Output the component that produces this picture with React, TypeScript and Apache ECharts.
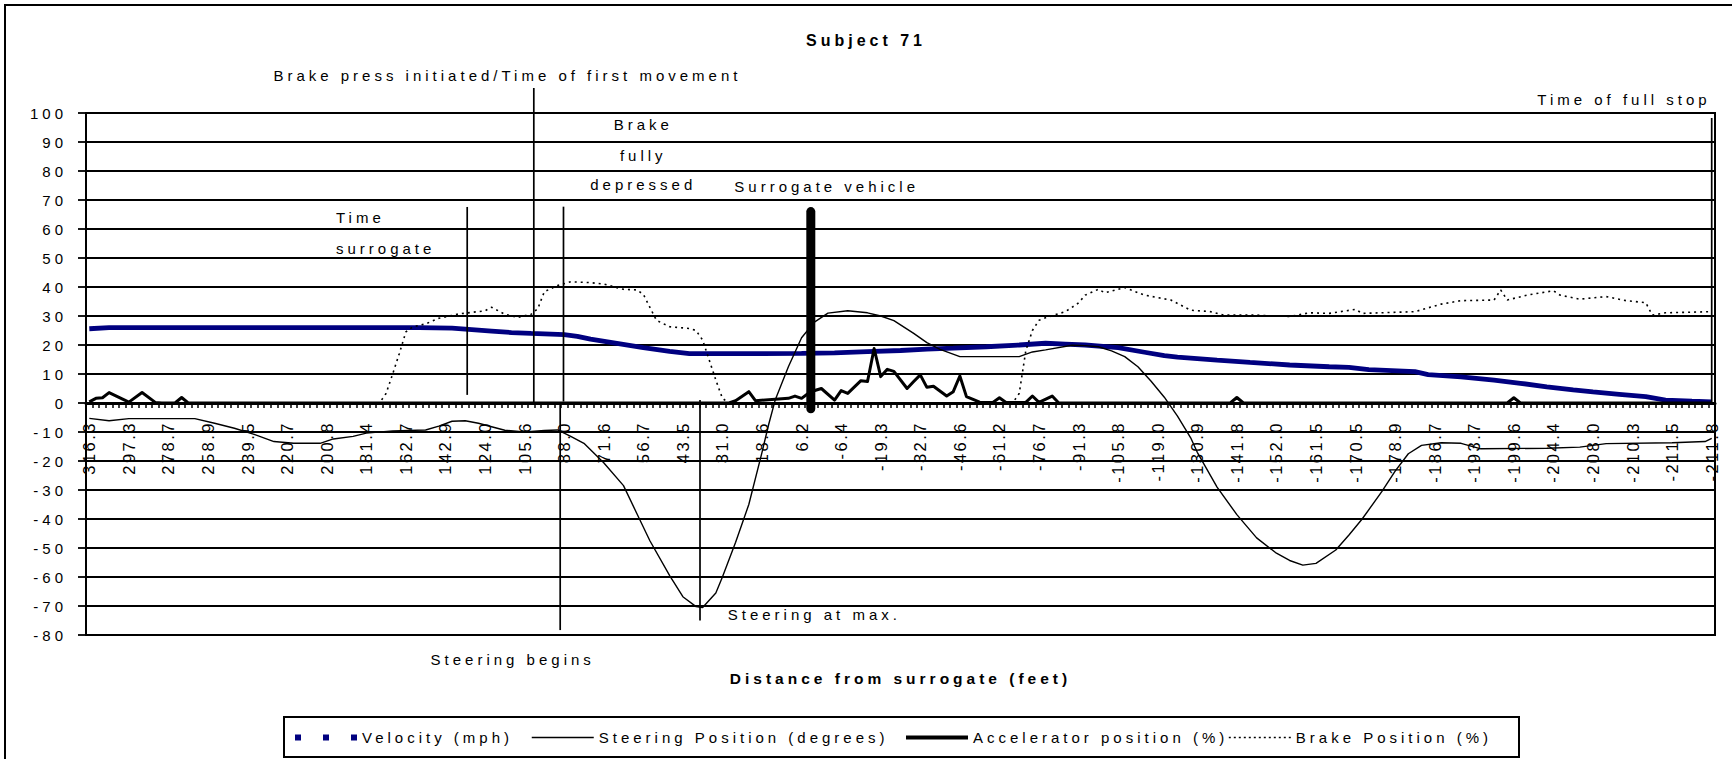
import React, { useEffect, useRef } from "react";
import * as echarts from "echarts";

const FONT = '"Liberation Sans", Arial, Helvetica, sans-serif';

// Distance labels shown on the category axis (one every 6 samples)
const distanceLabels = [
  "316.3", "297.3", "278.7", "258.9", "239.5", "220.7", "200.8", "181.4", "162.7", "142.9",
  "124.0", "105.6", "88.0", "71.6", "56.7", "43.5", "31.0", "18.6", "6.2", "-6.4",
  "-19.3", "-32.7", "-46.6", "-61.2", "-76.7", "-91.3", "-105.8", "-119.0", "-130.9", "-141.8",
  "-152.0", "-161.5", "-170.5", "-178.9", "-186.7", "-193.7", "-199.6", "-204.4", "-208.0", "-210.3",
  "-211.5", "-211.8",
];
const LABEL_STEP = 6;

// [sample index, value]
const velocity: number[][] = [
  [0, 25.6], [3, 26], [50, 26], [55, 25.8], [58, 25.3], [61, 24.8], [64, 24.3], [67, 24], [72, 23.6],
  [74, 23], [76, 22], [80, 20.6], [84, 19.1], [88, 17.8], [91, 17], [98, 17], [108, 17.1], [113, 17.3],
  [118, 17.7], [123, 18.1], [127, 18.6], [131, 18.9], [136, 19.4], [141, 20], [145, 20.6], [148, 20.3],
  [151, 20], [156, 19.1], [160, 17.5], [163, 16.3], [165, 15.8], [171, 14.8], [176, 14], [182, 13.1],
  [188, 12.5], [191, 12.3], [194, 11.5], [201, 10.8], [203, 9.8], [208, 9], [213, 7.9], [217, 6.8],
  [221, 5.6], [225, 4.5], [228, 3.8], [232, 3], [236, 2.2], [239, 1], [243, 0.6], [246, 0.4],
];

const steering: number[][] = [
  [0, -5.3], [3, -6.1], [6, -5.4], [16, -5.4], [19, -7], [22, -8.7], [25, -10.8], [28, -13.3], [31, -13.9],
  [35, -13.9], [37, -12.4], [40, -11.5], [42, -10.4], [46, -9.6], [51, -9.3], [53, -8], [55, -6.3], [57, -6.1],
  [59, -7], [61, -8.2], [63, -9.4], [66, -10], [69, -9.5], [71, -9.3], [73, -11.5], [75, -13.9], [78, -20.6],
  [81, -28.5], [83, -38], [85, -47.5], [88, -59.5], [90, -66.8], [92, -70.2], [93, -70.5], [95, -65.5],
  [96, -60], [98, -48], [100, -35], [102, -17], [103, -7.5], [104, 1], [106, 12.5], [108, 22.5], [110, 28],
  [112, 31], [115, 31.8], [118, 31.1], [120, 30], [122, 28.4], [125, 24], [127, 20.8], [129, 18.5], [132, 16],
  [141, 16], [143, 17.6], [145, 18.3], [149, 19.9], [151, 19.8], [153, 19.4], [155, 18], [157, 16],
  [159, 12.5], [161, 7.5], [163, 2], [165, -4.5], [167, -12], [168, -17], [171, -29], [174, -38.5],
  [177, -46.5], [180, -51.8], [182, -54.3], [184, -55.9], [186, -55.3], [189, -50.7], [191, -45.5],
  [193, -40], [196, -30.5], [198, -23.5], [200, -17.5], [202, -14.6], [205, -13.7], [208, -13.9],
  [211, -15.8], [221, -15.6], [226, -15.2], [230, -14], [240, -13.7], [245, -13.3], [246, -12.2],
];

const accelerator: number[][] = [
  [0, 0.4], [1, 1.6], [2, 1.8], [3, 3.6], [6, 0.3], [8, 3.6], [10, 0.2], [11, 0], [13, 0], [14, 1.9],
  [15, 0], [97, 0], [98, 0.8], [100, 3.9], [101, 0.8], [104, 1.3], [106, 1.6], [107, 2.4], [108, 1.6],
  [109, 3.3], [110, 4.3], [111, 5], [113, 1], [114, 4.3], [115, 3.3], [117, 7.7], [118, 7.4], [119, 18.8],
  [120, 9.1], [121, 11.6], [122, 10.9], [124, 5], [125, 7.4], [126, 9.7], [127, 5.4], [128, 5.8],
  [130, 2.4], [131, 3.9], [132, 9.3], [133, 2.2], [135, 0.3], [137, 0.2], [138, 1.8], [139, 0.2],
  [142, 0.2], [143, 2.4], [144, 0.2], [146, 2.4], [147, 0], [173, 0], [174, 1.9], [175, 0], [215, 0],
  [216, 1.8], [217, 0], [246, 0],
];

const brake: number[][] = [
  [0, 0], [44, 0], [45, 3.3], [46, 10], [47, 17], [48, 24.5], [49, 26.2], [51, 27.3], [53, 29.2],
  [56, 30.7], [60, 31.8], [61, 33], [63, 30.6], [65, 29.5], [67, 30.6], [68, 32.5], [69, 38.4], [71, 40.5],
  [73, 41.8], [76, 41.5], [78, 41], [81, 39.2], [83, 39], [84, 37.5], [85, 33], [86, 28.5], [88, 26.3],
  [91, 25.7], [92, 25], [93, 21.7], [94, 14.8], [95, 7.9], [96, 1.6], [97, 0], [140, 0], [141, 3.3],
  [142, 18], [143, 25], [144, 28.5], [145, 29.4], [148, 31.5], [150, 34.5], [151, 37.2], [153, 39.2],
  [154, 38], [157, 39.8], [160, 37.2], [164, 35.5], [167, 32], [170, 31.5], [172, 30.3], [177, 30.3],
  [182, 29.8], [185, 31.1], [188, 30.9], [192, 32.3], [193, 30.9], [201, 31.5], [205, 34.1], [208, 35.3],
  [213, 35.5], [214, 39], [215, 35.5], [218, 37.2], [222, 38.7], [223, 37.2], [226, 35.8], [230, 36.7],
  [233, 35.3], [236, 34.6], [237, 30.3], [239, 31.1], [246, 31.5],
];

// Annotation markers, in axis units: sample index, value from, value to
const markerLines = [
  { c: 67.4, from: 108.6, to: 0, width: 1.7 },   // brake press initiated
  { c: 57.3, from: 67.6, to: 2.8, width: 1.7 },  // time surrogate
  { c: 71.9, from: 67.7, to: 0.5, width: 1.7 },  // brake fully depressed
  { c: 71.4, from: 0, to: -78.3, width: 1.7 },   // steering begins
  { c: 92.6, from: 1, to: -75, width: 1.7 },     // steering at max
  { c: 109.4, from: 66, to: -2, width: 9 },      // surrogate vehicle
  { c: 246, from: 98.3, to: 0, width: 1.7 },     // time of full stop
];

const markerTexts = [
  { text: "Brake press initiated/Time of first movement", c: 63.4, v: 113, align: "center" },
  { text: "Time", c: 37.4, v: 63.8, align: "left" },
  { text: "surrogate", c: 37.4, v: 53.3, align: "left" },
  { text: "Brake", c: 84, v: 95.9, align: "center" },
  { text: "fully", c: 84, v: 85.5, align: "center" },
  { text: "depressed", c: 84, v: 75.2, align: "center" },
  { text: "Surrogate vehicle", c: 97.8, v: 74.6, align: "left" },
  { text: "Steering at max.", c: 96.8, v: -73.1, align: "left" },
  { text: "Steering begins", c: 64.2, v: -88.3, align: "center" },
  { text: "Time of full stop", c: 232.7, v: 104.7, align: "center" },
];

const categories = Array.from(
  { length: (distanceLabels.length - 1) * LABEL_STEP + 1 },
  (_, i) => (i % LABEL_STEP === 0 ? distanceLabels[i / LABEL_STEP] : "")
);

const Y_MIN = -80;
const Y_MAX = 100;
const W = 1732;
const H = 759;

export default function App() {
  const ref = useRef<HTMLDivElement>(null);

  useEffect(() => {
    if (!ref.current) return;
    const chart = echarts.init(ref.current, null, { renderer: "svg", width: W, height: H });

    const legendBase = {
      orient: "horizontal",
      top: 730,
      itemHeight: 14,
      padding: 0,
      selectedMode: false,
      itemStyle: { opacity: 0 },
      textStyle: { fontSize: 15, color: "#000", fontFamily: FONT },
    };

    const option: any = {
      animation: false,
      backgroundColor: "#ffffff",
      textStyle: { fontFamily: FONT, fontSize: 15, color: "#000" },
      title: {
        text: "Subject 71",
        left: "center",
        top: 27,
        textStyle: { fontFamily: FONT, fontSize: 16, fontWeight: "bold", color: "#000" },
      },
      legend: [
        { ...legendBase, data: ["Velocity (mph)"], left: 292, itemWidth: 62,
          lineStyle: { type: [6, 22], width: 6, color: "#000080", opacity: 1 } },
        { ...legendBase, data: ["Steering Position (degrees)"], left: 531, itemWidth: 62,
          lineStyle: { type: "solid", width: 1.5, color: "#000", opacity: 1 } },
        { ...legendBase, data: ["Accelerator position (%)"], left: 904, itemWidth: 62,
          lineStyle: { type: "solid", width: 4, color: "#000", opacity: 1 } },
        { ...legendBase, data: ["Brake Position (%)"], left: 1228, itemWidth: 62,
          lineStyle: { type: [2, 3], width: 1.6, color: "#000", opacity: 1 } },
      ],
      grid: {
        left: 86, right: 17, top: 113, bottom: 124,
        outerBoundsMode: "none",
        containLabel: false,
        show: true, borderColor: "#000", borderWidth: 2, backgroundColor: "transparent",
      },
      xAxis: {
        type: "category",
        data: categories,
        boundaryGap: true,
        offset: 0,
        axisLine: { onZero: false, lineStyle: { color: "#000", width: 3 } },
        axisTick: { show: true, interval: 0, length: 5, lineStyle: { color: "#000", width: 1.5 } },
        axisLabel: { interval: LABEL_STEP - 1, rotate: 90, margin: 18, fontSize: 16.5, color: "#000", fontFamily: FONT },
        splitLine: { show: false },
        name: "Distance from surrogate (feet)",
        nameLocation: "middle",
        nameGap: 267,
        nameTextStyle: { fontWeight: "bold", fontSize: 15.5, color: "#000", fontFamily: FONT },
      },
      yAxis: {
        type: "value",
        min: Y_MIN,
        max: Y_MAX,
        interval: 10,
        axisLine: { show: true, lineStyle: { color: "#000", width: 2 } },
        axisTick: { show: true, length: 8, lineStyle: { color: "#000", width: 1.8 } },
        axisLabel: { margin: 19, fontSize: 15, color: "#000", fontFamily: FONT },
        splitLine: { show: true, lineStyle: { color: "#000", width: 1.8 } },
      },
      series: [
        {
          name: "Velocity (mph)", type: "line", data: velocity, symbol: "none",
          lineStyle: { color: "#000080", width: 4.8 }, itemStyle: { color: "#000080" }, z: 3,
        },
        {
          name: "Steering Position (degrees)", type: "line", data: steering, symbol: "none",
          lineStyle: { color: "#000", width: 1.4 }, itemStyle: { color: "#000" }, z: 4,
        },
        {
          name: "Accelerator position (%)", type: "line", data: accelerator, symbol: "none",
          lineStyle: { color: "#000", width: 3, join: "round" }, itemStyle: { color: "#000" }, z: 4,
        },
        {
          name: "Brake Position (%)", type: "line", data: brake, symbol: "none",
          lineStyle: { color: "#000", width: 1.6, type: [2, 4] }, itemStyle: { color: "#000" }, z: 4,
        },
      ],
    };
    chart.setOption(option);

    // Move the category axis (line, ticks, labels, name) up to the zero line of the value axis
    const yZero = chart.convertToPixel({ yAxisIndex: 0 } as any, 0) as number;
    const yBottom = chart.convertToPixel({ yAxisIndex: 0 } as any, Y_MIN) as number;
    chart.setOption({ xAxis: { offset: -(yBottom - yZero) } });

    const toPx = (c: number, v: number) => {
      const c0 = Math.floor(c);
      const f = c - c0;
      const a = chart.convertToPixel({ gridIndex: 0 } as any, [c0, v]) as number[];
      const b = chart.convertToPixel({ gridIndex: 0 } as any, [c0 + 1, v]) as number[];
      return [a[0] + f * (b[0] - a[0]), a[1]];
    };

    const elements: any[] = [
      {
        type: "rect", z: 0, silent: true,
        shape: { x: 5, y: 5, width: W + 20, height: H + 20 },
        style: { fill: "none", stroke: "#000", lineWidth: 2 },
      },
      {
        type: "rect", z: 0, silent: true,
        shape: { x: 284, y: 717, width: 1235, height: 40 },
        style: { fill: "none", stroke: "#000", lineWidth: 2 },
      },
    ];
    markerLines.forEach((m) => {
      const p1 = toPx(m.c, m.from);
      const p2 = toPx(m.c, m.to);
      elements.push({
        type: "line", z: 50, silent: true,
        shape: { x1: p1[0], y1: p1[1], x2: p2[0], y2: p2[1] },
        style: { stroke: "#000", lineWidth: m.width, lineCap: m.width > 4 ? "round" : "butt" },
      });
    });
    markerTexts.forEach((t) => {
      const p = toPx(t.c, t.v);
      elements.push({
        type: "text", z: 50, silent: true, x: p[0], y: p[1],
        style: {
          text: t.text, font: `15px ${FONT}`, fill: "#000",
          align: t.align, textAlign: t.align, verticalAlign: "middle", textVerticalAlign: "middle",
        },
      });
    });
    chart.setOption({ graphic: { elements } });

    return () => chart.dispose();
  }, []);

  return (
    <>
      <style>{`#chart-host text { letter-spacing: 4px; }
#chart-host text[transform*=",-1,1,"] { letter-spacing: 2.5px; }`}</style>
      <div
        id="chart-host"
        ref={ref}
        style={{ position: "fixed", left: 0, top: 0, width: W, height: H, background: "#fff" }}
      />
    </>
  );
}
